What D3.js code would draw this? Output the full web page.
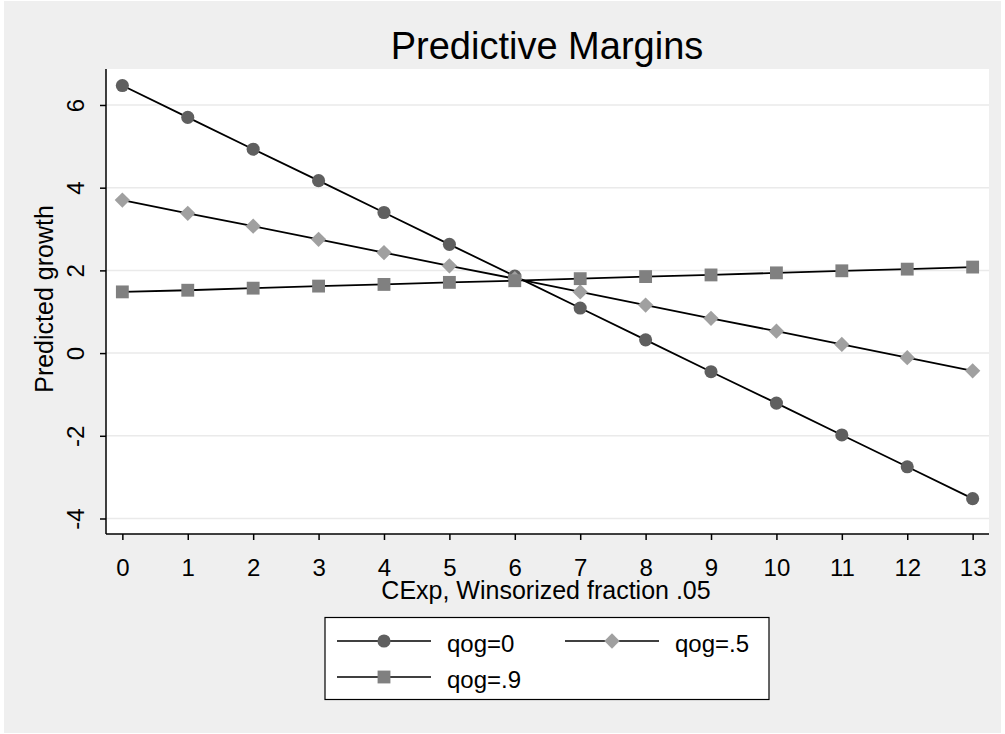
<!DOCTYPE html>
<html>
<head>
<meta charset="utf-8">
<script src="https://cdn.jsdelivr.net/npm/d3@7"></script>
<style>
  body { margin: 0; background: #fff; }
  text { font-family: "Liberation Sans", Arial, sans-serif; fill: #000; }
</style>
</head>
<body>
<script>
// data
var xValues = [0, 1, 2, 3, 4, 5, 6, 7, 8, 9, 10, 11, 12, 13];
var qog0 = [6.47, 5.70, 4.93, 4.17, 3.40, 2.63, 1.86, 1.09, 0.32, -0.45, -1.21, -1.98, -2.75, -3.52];
var qog5 = [3.70, 3.38, 3.07, 2.75, 2.43, 2.11, 1.80, 1.48, 1.16, 0.84, 0.53, 0.21, -0.11, -0.43];
var qog9 = [1.48, 1.52, 1.57, 1.62, 1.66, 1.71, 1.75, 1.80, 1.85, 1.89, 1.94, 1.99, 2.03, 2.08];
var yTicks = [-4, -2, 0, 2, 4, 6];
var seriesNames = ["qog=0", "qog=.5", "qog=.9"];

var W = 1005, H = 734;
var plotLeft = 106, plotRight = 989, plotTop = 69, plotBottom = 534;
var FONT = '"Liberation Sans", Arial, sans-serif';

var svg = d3.select("body").append("svg")
  .attr("width", W)
  .attr("height", H);

// graph region
svg.append("rect").attr("x", 4).attr("y", 1).attr("width", W - 8).attr("height", H - 2)
  .attr("fill", "#efefef");
svg.append("rect").attr("x", plotLeft).attr("y", plotTop)
  .attr("width", plotRight - plotLeft).attr("height", plotBottom - plotTop)
  .attr("fill", "#fff");

var x = d3.scaleLinear().domain([-0.25, 13.25]).range([plotLeft, plotRight]);
var y = d3.scaleLinear().domain([-4.375, 6.87]).range([plotBottom, plotTop]);

// grid lines
svg.append("g").selectAll("line").data(yTicks).enter().append("line")
  .attr("x1", plotLeft).attr("x2", plotRight)
  .attr("y1", function (d) { return y(d); })
  .attr("y2", function (d) { return y(d); })
  .attr("stroke", "#eaeaea").attr("stroke-width", 1.5);

// plain hyphen for negatives, like the original
var fmt = function (d) { return String(d); };

// axes
var yAxis = svg.append("g").attr("transform", "translate(" + plotLeft + ",0)")
  .call(d3.axisLeft(y).tickValues(yTicks).tickSize(6).tickFormat(fmt));
yAxis.select(".domain").attr("d", "M0," + plotTop + "V" + plotBottom).attr("stroke-width", 1.5);
yAxis.selectAll(".tick line").attr("stroke-width", 1.5);
yAxis.selectAll(".tick text")
  .attr("x", 0).attr("y", 0).attr("dy", null)
  .attr("text-anchor", "middle")
  .attr("transform", "translate(-22,0) rotate(-90)")
  .style("font-size", "24px")
  .style("font-family", FONT);

var xAxis = svg.append("g").attr("transform", "translate(0," + plotBottom + ")")
  .call(d3.axisBottom(x).tickValues(xValues).tickSize(6).tickFormat(fmt));
xAxis.select(".domain").attr("d", "M" + plotLeft + ",0H" + plotRight).attr("stroke-width", 1.5);
xAxis.selectAll(".tick line").attr("stroke-width", 1.5);
xAxis.selectAll(".tick text")
  .attr("y", 42).attr("dy", null)
  .style("font-size", "24px")
  .style("font-family", FONT);

// titles
svg.append("text").attr("x", 547).attr("y", 59).attr("text-anchor", "middle")
  .style("font-size", "38px").text("Predictive Margins");
svg.append("text").attr("x", 546).attr("y", 599).attr("text-anchor", "middle")
  .style("font-size", "25px").text("CExp, Winsorized fraction .05");
svg.append("text").attr("transform", "translate(53,299) rotate(-90)").attr("text-anchor", "middle")
  .style("font-size", "25px").text("Predicted growth");

// series
var series = [
  { name: seriesNames[0], values: qog0, color: "#5f5f5f", shape: d3.symbolCircle, size: 135 },
  { name: seriesNames[1], values: qog5, color: "#a0a0a0", shape: d3.symbolDiamond, size: 118 },
  { name: seriesNames[2], values: qog9, color: "#808080", shape: d3.symbolSquare, size: 165 }
];

var line = d3.line()
  .x(function (d, i) { return x(xValues[i]); })
  .y(function (d) { return y(d); });

series.forEach(function (s) {
  svg.append("path").datum(s.values)
    .attr("d", line)
    .attr("fill", "none").attr("stroke", "#000").attr("stroke-width", 1.8);
});

// diamonds are squares turned by 45 degrees
function marker(s) {
  var t = s.shape === d3.symbolDiamond ? d3.symbolSquare : s.shape;
  return d3.symbol().type(t).size(s.size)();
}
function rot(s) {
  return s.shape === d3.symbolDiamond ? " rotate(45)" : "";
}

series.forEach(function (s) {
  svg.append("g").selectAll("path").data(s.values).enter().append("path")
    .attr("d", marker(s))
    .attr("transform", function (d, i) {
      return "translate(" + x(xValues[i]) + "," + y(d) + ")" + rot(s);
    })
    .attr("fill", s.color);
});

// legend
var lg = svg.append("g");
lg.append("rect").attr("x", 325).attr("y", 617.5).attr("width", 444).attr("height", 82)
  .attr("fill", "#fff").attr("stroke", "#000").attr("stroke-width", 1.2);

var legendPos = [
  { lx: 337, ly: 641, tx: 447 },
  { lx: 565, ly: 641, tx: 675 },
  { lx: 337, ly: 677, tx: 447 }
];

series.forEach(function (s, i) {
  var p = legendPos[i];
  lg.append("line").attr("x1", p.lx).attr("x2", p.lx + 94)
    .attr("y1", p.ly).attr("y2", p.ly)
    .attr("stroke", "#000").attr("stroke-width", 1.5);
  lg.append("path").attr("d", marker(s))
    .attr("transform", "translate(" + (p.lx + 47) + "," + p.ly + ")" + rot(s))
    .attr("fill", s.color);
  lg.append("text").attr("x", p.tx).attr("y", p.ly + 11)
    .style("font-size", "24px").text(s.name);
});
</script>
</body>
</html>
